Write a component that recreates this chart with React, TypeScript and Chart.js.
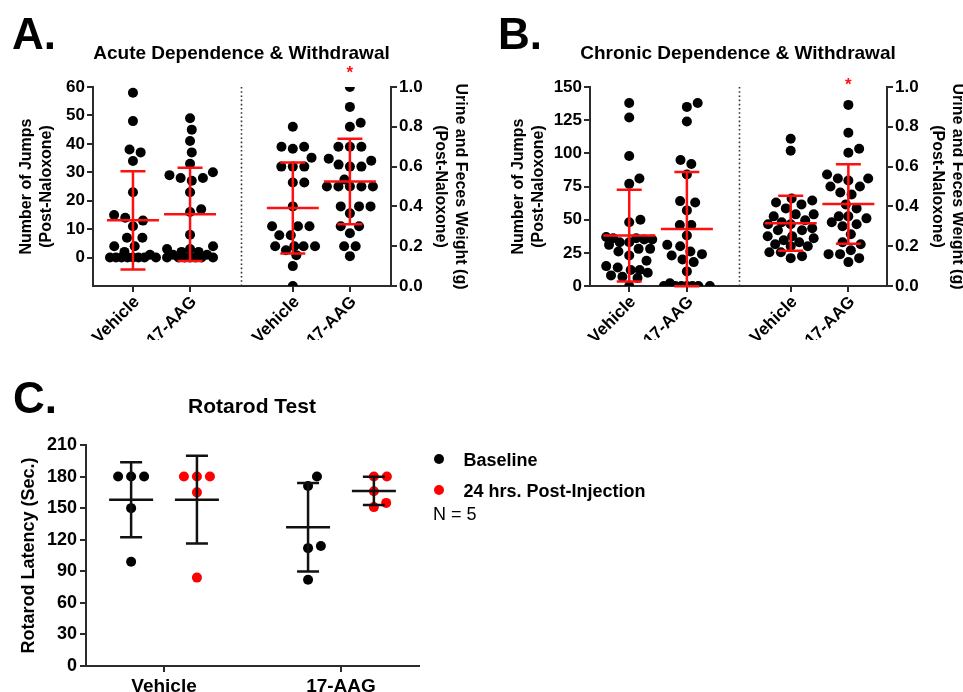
import React, { useEffect, useRef } from "react";
import { Chart, registerables } from "chart.js";

Chart.register(...registerables);

// ---------------- shared category layout (panels A & B) ----------------
const groupLabels = ["Vehicle", "17-AAG", "Vehicle", "17-AAG"];
const groupPositions = [1, 2, 3.8, 4.8];
const separatorPosition = 2.9;

// ---------------- Panel A: Acute Dependence & Withdrawal ----------------
const aJumpsVehicle = [58, 48, 38, 37, 34, 23, 15, 14, 13, 11, 7, 7, 4, 4, 2, 1, 0, 0, 0, 0, 0, 0, 0, 0];
const aJumps17AAG = [49, 45, 41, 37, 33, 30, 29, 28, 28, 27, 23, 17, 16, 8, 4, 3, 3, 2, 2, 1, 1, 0, 0, 0, 0, 0, 0, 0];
const aWeightVehicle = [0.8, 0.7, 0.69, 0.7, 0.645, 0.6, 0.6, 0.6, 0.52, 0.52, 0.4, 0.3, 0.3, 0.3, 0.255, 0.255, 0.2, 0.2, 0.2, 0.2, 0.18, 0.155, 0.1, 0.0];
const aWeight17AAG = [1.0, 0.9, 0.82, 0.8, 0.7, 0.7, 0.7, 0.64, 0.63, 0.61, 0.6, 0.6, 0.535, 0.5, 0.5, 0.5, 0.5, 0.5, 0.4, 0.4, 0.4, 0.365, 0.3, 0.3, 0.265, 0.2, 0.2, 0.15];
const aMeans = [13.1, 15.2, 0.392, 0.525];
const aSDs = [17.3, 16.4, 0.229, 0.215];
const aJumpTicks = [0, 10, 20, 30, 40, 50, 60];
const aWeightTicks = [0, 0.1, 0.2, 0.3, 0.4, 0.5, 0.6, 0.7, 0.8, 0.9, 1.0];

// ---------------- Panel B: Chronic Dependence & Withdrawal ----------------
const bJumpsVehicle = [138, 127, 98, 81, 77, 50, 48, 37, 36, 36, 35, 35, 33, 33, 31, 28, 28, 26, 23, 19, 15, 14, 12, 12, 10, 8, 7, 6, 0];
const bJumps17AAG = [138, 135, 124, 95, 92, 84, 64, 63, 57, 46, 46, 38, 31, 30, 26, 23, 24, 20, 18, 11, 2, 0, 0, 0, 0, 0, 0, 0];
const bWeightVehicle = [0.74, 0.68, 0.44, 0.43, 0.42, 0.41, 0.39, 0.36, 0.36, 0.35, 0.33, 0.32, 0.31, 0.31, 0.29, 0.28, 0.28, 0.25, 0.25, 0.24, 0.23, 0.22, 0.21, 0.2, 0.2, 0.17, 0.17, 0.15, 0.14];
const bWeight17AAG = [0.91, 0.77, 0.69, 0.67, 0.56, 0.54, 0.54, 0.53, 0.5, 0.5, 0.47, 0.46, 0.41, 0.39, 0.35, 0.35, 0.34, 0.32, 0.31, 0.3, 0.26, 0.22, 0.21, 0.18, 0.16, 0.16, 0.14, 0.12];
const bMeans = [38.0, 42.9, 0.315, 0.412];
const bSDs = [34.6, 43.0, 0.138, 0.2];
const bJumpTicks = [0, 25, 50, 75, 100, 125, 150];
const bWeightTicks = [0, 0.2, 0.4, 0.6, 0.8, 1.0];

// ---------------- Panel C: Rotarod Test ----------------
const cCategories = ["Vehicle", "17-AAG"];
const cCategoryPositions = [1, 2];
const cSeriesNames = ["Baseline", "24 hrs. Post-Injection"];
const cNote = "N = 5";
const cBaselineVehicle = [180, 180, 180, 150, 99];
const cBaseline17AAG = [180, 171, 114, 112, 82];
const cPostVehicle = [180, 180, 180, 165, 84];
const cPost17AAG = [180, 180, 166, 151, 155];
const cBaselineMeans = [158, 131.8];
const cBaselineSDs = [35.6, 42];
const cPostMeans = [158, 166.4];
const cPostSDs = [41.7, 13.5];
const cTicks = [0, 30, 60, 90, 120, 150, 180, 210];

// ---------------- styling ----------------
const SANS = "'Liberation Sans', Arial, Helvetica, sans-serif";
const AXIS = "#2b2b2b";
const RED = "#ff1010";

// Beeswarm layout (pixel space), computed from the data through the scales
function swarmOffsets(ys: number[], dia: number, maxHalf: number): number[] {
  const order = ys.map((_, i) => i).sort((a, b) => ys[b] - ys[a]);
  const placed: { x: number; y: number }[] = [];
  const out: number[] = new Array(ys.length).fill(0);
  const d2 = dia * dia;
  for (const i of order) {
    const y = ys[i];
    const near = placed.filter((p) => Math.abs(p.y - y) < dia);
    const bias = near.reduce((s, p) => s + p.x, 0);
    const cands = [0];
    near.forEach((p) => {
      const dx = Math.sqrt(Math.max(0, d2 - (p.y - y) ** 2));
      cands.push(p.x + dx, p.x - dx);
    });
    const free = (x: number) => near.every((p) => (p.x - x) ** 2 + (p.y - y) ** 2 >= d2 - 0.01);
    let best: number | null = null;
    let bestScore = Infinity;
    for (const c of cands) {
      if (Math.abs(c) > maxHalf + 0.01 || !free(c)) continue;
      const score = Math.abs(c) + (bias > 0 ? c : -c) * 0.001;
      if (score < bestScore) {
        bestScore = score;
        best = c;
      }
    }
    if (best === null) {
      let bestD = -Infinity;
      for (let x = -maxHalf; x <= maxHalf + 1e-6; x += 0.5) {
        const dmin = Math.min(...near.map((p) => Math.hypot(p.x - x, p.y - y)));
        const s = dmin - Math.abs(x) * 0.001;
        if (s > bestD) {
          bestD = s;
          best = x;
        }
      }
    }
    placed.push({ x: best as number, y });
    out[i] = best as number;
  }
  return out;
}

type SwarmSet = { values: number[]; center: number; axis: string };

function applySwarm(chart: any, sets: SwarmSet[], dia: number, maxHalf: number) {
  const xs = chart.scales.x;
  const pxPerUnit = xs.getPixelForValue(1) - xs.getPixelForValue(0);
  sets.forEach((s, di) => {
    const ys = chart.scales[s.axis];
    const py = s.values.map((v) => ys.getPixelForValue(v));
    const off = swarmOffsets(py, dia, maxHalf);
    chart.data.datasets[di].data = s.values.map((v, i) => ({ x: s.center + off[i] / pxPerUnit, y: v }));
  });
  chart.update();
}

type ErrSpec = { x: number; mean: number; sd: number; axis: string; color: string; meanHalf: number; capHalf: number; width: number };

function errorBarPlugin(bars: ErrSpec[]) {
  return {
    id: "meanSdBars",
    afterDatasetsDraw(chart: any) {
      const ctx = chart.ctx;
      const xs = chart.scales.x;
      bars.forEach((b) => {
        const ys = chart.scales[b.axis];
        const px = xs.getPixelForValue(b.x);
        const pm = ys.getPixelForValue(b.mean);
        const pu = ys.getPixelForValue(b.mean + b.sd);
        const pl = ys.getPixelForValue(b.mean - b.sd);
        ctx.save();
        ctx.strokeStyle = b.color;
        ctx.lineWidth = b.width;
        ctx.beginPath();
        ctx.moveTo(px, pu);
        ctx.lineTo(px, pl);
        ctx.moveTo(px - b.meanHalf, pm);
        ctx.lineTo(px + b.meanHalf, pm);
        ctx.moveTo(px - b.capHalf, pu);
        ctx.lineTo(px + b.capHalf, pu);
        ctx.moveTo(px - b.capHalf, pl);
        ctx.lineTo(px + b.capHalf, pl);
        ctx.stroke();
        ctx.restore();
      });
    },
  };
}

type DepPanel = {
  letter: string;
  letterX: number;
  title: string;
  titleX: number;
  jumps: number[][];
  weights: number[][];
  means: number[];
  sds: number[];
  jumpMin: number;
  jumpMax: number;
  jumpTicks: number[];
  weightTicks: number[];
  xMin: number;
  xMax: number;
  leftWidth: number;
  rightWidth: number;
  leftTitlePad: number;
  rightTitlePad: number;
  asteriskBaseline: number;
};

function buildDependence(canvas: HTMLCanvasElement, p: DepPanel) {
  const sets: SwarmSet[] = [
    { values: p.jumps[0], center: groupPositions[0], axis: "y" },
    { values: p.jumps[1], center: groupPositions[1], axis: "y" },
    { values: p.weights[0], center: groupPositions[2], axis: "y1" },
    { values: p.weights[1], center: groupPositions[3], axis: "y1" },
  ];
  const bars: ErrSpec[] = sets.map((s, i) => ({
    x: s.center,
    mean: p.means[i],
    sd: p.sds[i],
    axis: s.axis,
    color: RED,
    meanHalf: 26,
    capHalf: 12.5,
    width: 2.5,
  }));
  const decor = {
    id: "decor",
    afterDraw(chart: any) {
      const ctx = chart.ctx;
      const area = chart.chartArea;
      const xs = chart.scales.x;
      ctx.save();
      const sx = Math.round(xs.getPixelForValue(separatorPosition)) + 0.5;
      ctx.strokeStyle = "#333";
      ctx.lineWidth = 1.6;
      ctx.setLineDash([1.6, 2.6]);
      ctx.beginPath();
      ctx.moveTo(sx, area.top);
      ctx.lineTo(sx, area.bottom);
      ctx.stroke();
      ctx.setLineDash([]);
      ctx.fillStyle = "#000";
      ctx.textAlign = "left";
      ctx.textBaseline = "alphabetic";
      ctx.font = `bold 44px ${SANS}`;
      ctx.fillText(p.letter, p.letterX, 49);
      ctx.textAlign = "center";
      ctx.font = `bold 19px ${SANS}`;
      ctx.fillText(p.title, p.titleX, 59);
      ctx.fillStyle = RED;
      ctx.font = `bold 17px ${SANS}`;
      ctx.fillText("*", xs.getPixelForValue(groupPositions[3]), p.asteriskBaseline);
      ctx.restore();
    },
  };
  const tickFont = { family: SANS, size: 17, weight: "bold" as const };
  const titleFont = { family: SANS, size: 16, weight: "bold" as const, lineHeight: 1.25 };
  const gridOpts = { drawOnChartArea: false, drawTicks: true, tickLength: 6, color: AXIS, lineWidth: 2 };
  const chart: any = new Chart(canvas, {
    type: "scatter",
    data: {
      datasets: sets.map((s) => ({
        data: s.values.map((v) => ({ x: s.center, y: v })),
        yAxisID: s.axis,
        backgroundColor: "#000",
        borderWidth: 0,
        pointRadius: 5,
        pointHoverRadius: 5,
      })),
    },
    options: {
      animation: false,
      responsive: false,
      maintainAspectRatio: false,
      events: [],
      layout: { padding: { top: 87, left: 0, right: 0, bottom: 0 } },
      plugins: { legend: { display: false }, tooltip: { enabled: false } },
      scales: {
        x: {
          type: "linear",
          min: p.xMin,
          max: p.xMax,
          afterBuildTicks: (s: any) => {
            s.ticks = groupPositions.map((v) => ({ value: v }));
          },
          afterFit: (s: any) => {
            s.height = 54;
          },
          ticks: {
            autoSkip: false,
            minRotation: 45,
            maxRotation: 45,
            padding: 0,
            labelOffset: 4,
            color: "#000",
            font: tickFont,
            callback: (_v: any, i: number) => groupLabels[i],
          },
          grid: gridOpts,
          border: { display: true, color: AXIS, width: 2 },
        },
        y: {
          type: "linear",
          position: "left",
          min: p.jumpMin,
          max: p.jumpMax,
          afterBuildTicks: (s: any) => {
            s.ticks = p.jumpTicks.map((v) => ({ value: v }));
          },
          afterFit: (s: any) => {
            s.width = p.leftWidth;
          },
          ticks: { padding: 2, color: "#000", font: tickFont },
          grid: gridOpts,
          border: { display: true, color: AXIS, width: 2 },
          title: {
            display: true,
            text: ["Number of Jumps", "(Post-Naloxone)"],
            color: "#000",
            font: titleFont,
            padding: { top: p.leftTitlePad, bottom: 0 },
          },
        },
        y1: {
          type: "linear",
          position: "right",
          min: 0,
          max: 1,
          afterBuildTicks: (s: any) => {
            s.ticks = p.weightTicks.map((v) => ({ value: v }));
          },
          afterFit: (s: any) => {
            s.width = p.rightWidth;
          },
          ticks: { padding: 2, color: "#000", font: tickFont, callback: (v: any) => Number(v).toFixed(1) },
          grid: gridOpts,
          border: { display: true, color: AXIS, width: 2 },
          title: {
            display: true,
            text: ["Urine and Feces Weight (g)", "(Post-Naloxone)"],
            color: "#000",
            font: titleFont,
            padding: { top: p.rightTitlePad, bottom: 0 },
          },
        },
      },
    },
    plugins: [errorBarPlugin(bars), decor],
  } as any);
  applySwarm(chart, sets, 11.5, 23);
  return chart;
}

function buildA(canvas: HTMLCanvasElement) {
  return buildDependence(canvas, {
    letter: "A.",
    letterX: 12,
    title: "Acute Dependence & Withdrawal",
    titleX: 241.5,
    jumps: [aJumpsVehicle, aJumps17AAG],
    weights: [aWeightVehicle, aWeight17AAG],
    means: aMeans,
    sds: aSDs,
    jumpMin: -10,
    jumpMax: 60,
    jumpTicks: aJumpTicks,
    weightTicks: aWeightTicks,
    xMin: 0.3,
    xMax: 5.52,
    leftWidth: 93,
    rightWidth: 89,
    leftTitlePad: 17,
    rightTitlePad: 10,
    asteriskBaseline: 78,
  });
}

function buildB(canvas: HTMLCanvasElement) {
  return buildDependence(canvas, {
    letter: "B.",
    letterX: 18,
    title: "Chronic Dependence & Withdrawal",
    titleX: 258,
    jumps: [bJumpsVehicle, bJumps17AAG],
    weights: [bWeightVehicle, bWeight17AAG],
    means: bMeans,
    sds: bSDs,
    jumpMin: 0,
    jumpMax: 150,
    jumpTicks: bJumpTicks,
    weightTicks: bWeightTicks,
    xMin: 0.32,
    xMax: 5.47,
    leftWidth: 110,
    rightWidth: 83,
    leftTitlePad: 29,
    rightTitlePad: 3,
    asteriskBaseline: 90,
  });
}

function buildC(canvas: HTMLCanvasElement) {
  const groupShift = 0.186;
  const sets: SwarmSet[] = [
    { values: cBaselineVehicle, center: cCategoryPositions[0] - groupShift, axis: "y" },
    { values: cBaseline17AAG, center: cCategoryPositions[1] - groupShift, axis: "y" },
    { values: cPostVehicle, center: cCategoryPositions[0] + groupShift, axis: "y" },
    { values: cPost17AAG, center: cCategoryPositions[1] + groupShift, axis: "y" },
  ];
  const colors = ["#000", "#000", "#ff0000", "#ff0000"];
  const means = [cBaselineMeans[0], cBaselineMeans[1], cPostMeans[0], cPostMeans[1]];
  const sds = [cBaselineSDs[0], cBaselineSDs[1], cPostSDs[0], cPostSDs[1]];
  const bars: ErrSpec[] = sets.map((s, i) => ({
    x: s.center,
    mean: means[i],
    sd: sds[i],
    axis: "y",
    color: "#111",
    meanHalf: 22,
    capHalf: 11,
    width: 2.5,
  }));
  const decor = {
    id: "decorC",
    afterDraw(chart: any) {
      const ctx = chart.ctx;
      ctx.save();
      ctx.fillStyle = "#000";
      ctx.textBaseline = "alphabetic";
      ctx.textAlign = "left";
      ctx.font = `bold 44px ${SANS}`;
      ctx.fillText("C.", 13, 73);
      ctx.textAlign = "center";
      ctx.font = `bold 21px ${SANS}`;
      ctx.fillText("Rotarod Test", 252, 73);
      const legendX = 439;
      const rows = [119, 150];
      cSeriesNames.forEach((name, i) => {
        ctx.fillStyle = i === 0 ? "#000" : "#ff0000";
        ctx.beginPath();
        ctx.arc(legendX, rows[i], 5, 0, Math.PI * 2);
        ctx.fill();
        ctx.fillStyle = "#000";
        ctx.textAlign = "left";
        ctx.font = `bold 18px ${SANS}`;
        ctx.fillText(name, 463.5, rows[i] + 7);
      });
      ctx.font = `18px ${SANS}`;
      ctx.fillText(cNote, 433, 180);
      ctx.restore();
    },
  };
  const gridOpts = { drawOnChartArea: false, drawTicks: true, tickLength: 6, color: AXIS, lineWidth: 2 };
  const chart: any = new Chart(canvas, {
    type: "scatter",
    data: {
      datasets: sets.map((s, i) => ({
        data: s.values.map((v) => ({ x: s.center, y: v })),
        yAxisID: "y",
        backgroundColor: colors[i],
        borderWidth: 0,
        pointRadius: 5,
        pointHoverRadius: 5,
      })),
    },
    options: {
      animation: false,
      responsive: false,
      maintainAspectRatio: false,
      events: [],
      layout: { padding: { top: 105, left: 0, right: 281, bottom: 0 } },
      plugins: { legend: { display: false }, tooltip: { enabled: false } },
      scales: {
        x: {
          type: "linear",
          min: 0.559,
          max: 2.441,
          afterBuildTicks: (s: any) => {
            s.ticks = cCategoryPositions.map((v) => ({ value: v }));
          },
          afterFit: (s: any) => {
            s.height = 26;
          },
          ticks: {
            autoSkip: false,
            minRotation: 0,
            maxRotation: 0,
            padding: 3,
            color: "#000",
            font: { family: SANS, size: 19, weight: "bold" },
            callback: (_v: any, i: number) => cCategories[i],
          },
          grid: gridOpts,
          border: { display: true, color: AXIS, width: 2 },
        },
        y: {
          type: "linear",
          position: "left",
          min: 0,
          max: 210,
          afterBuildTicks: (s: any) => {
            s.ticks = cTicks.map((v) => ({ value: v }));
          },
          afterFit: (s: any) => {
            s.width = 86;
          },
          ticks: { padding: 3, color: "#000", font: { family: SANS, size: 18, weight: "bold" } },
          grid: gridOpts,
          border: { display: true, color: AXIS, width: 2 },
          title: {
            display: true,
            text: "Rotarod Latency (Sec.)",
            color: "#000",
            font: { family: SANS, size: 18, weight: "bold", lineHeight: 1.2 },
            padding: { top: 18, bottom: 0 },
          },
        },
      },
    },
    plugins: [errorBarPlugin(bars), decor],
  } as any);
  applySwarm(chart, sets, 13, 16);
  return chart;
}

function ChartCanvas(props: { left: number; top: number; width: number; height: number; build: (c: HTMLCanvasElement) => any }) {
  const ref = useRef<HTMLCanvasElement>(null);
  useEffect(() => {
    const chart = props.build(ref.current as HTMLCanvasElement);
    return () => chart.destroy();
  }, []);
  return (
    <canvas
      ref={ref}
      width={props.width}
      height={props.height}
      style={{ position: "absolute", left: props.left, top: props.top, width: props.width, height: props.height }}
    />
  );
}

export default function App() {
  return (
    <div style={{ position: "absolute", left: 0, top: 0, width: 963, height: 692, overflow: "hidden", background: "#fff" }}>
      <ChartCanvas left={0} top={0} width={480} height={340} build={buildA} />
      <ChartCanvas left={480} top={0} width={490} height={340} build={buildB} />
      <ChartCanvas left={0} top={340} width={700} height={352} build={buildC} />
    </div>
  );
}
